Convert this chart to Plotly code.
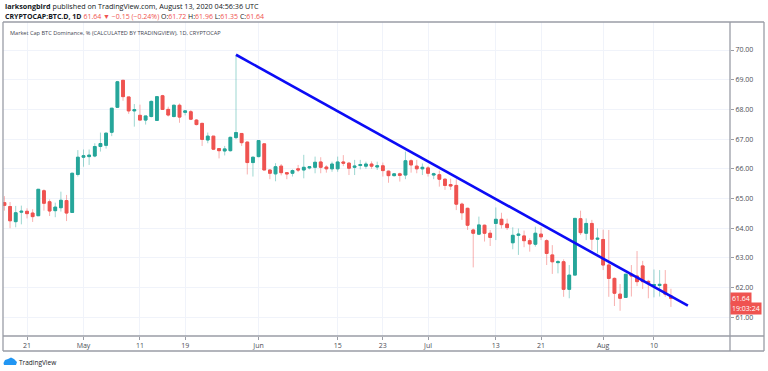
import plotly.graph_objects as go
import pandas as pd

# ---- data ----
dates = pd.date_range("2020-04-17", "2020-08-13", freq="D").strftime("%Y-%m-%d").tolist()

opens = [64.86, 64.73, 64.22, 64.54, 64.57, 64.51, 64.42, 65.26, 64.89, 64.59, 64.69, 64.93, 64.53, 65.81,
         66.39, 66.41, 66.43, 66.75, 66.79, 67.23, 68.07, 68.98, 68.42, 67.95, 67.80, 67.64, 67.76, 67.63,
         68.46, 68.00, 67.76, 68.14, 67.90, 67.92, 67.64, 67.53, 66.97, 67.10, 66.68, 66.60, 66.61, 67.05,
         67.19, 66.90, 66.21,
         66.41, 66.84, 65.96, 65.83, 66.09, 65.87, 65.85, 66.00, 65.96, 66.03, 66.05, 66.23, 66.06, 66.00,
         66.00, 66.23, 66.19, 66.05, 66.11, 66.09, 66.16, 66.06, 66.10, 65.92, 65.77, 65.83, 65.79, 66.27,
         66.09, 66.00,
         66.03, 65.79, 65.80, 65.65, 65.47, 65.44, 64.81, 64.67, 63.94, 63.80, 64.10, 63.83, 64.16, 64.30,
         64.14, 63.51, 63.76, 63.74, 63.58, 63.46, 63.80, 63.58, 63.10, 62.84, 62.87, 61.94, 62.42, 64.32,
         63.83, 64.16, 63.63,
         63.62, 62.76, 62.31, 61.78, 61.67, 62.45, 62.39, 62.73, 62.21, 62.07, 62.07, 62.11, 61.72]
highs = [65.08, 64.88, 64.75, 64.76, 64.67, 64.64, 65.32, 65.31, 64.97, 64.86, 65.23, 65.12, 65.87, 66.63,
         66.65, 66.65, 66.86, 67.22, 67.22, 68.04, 68.96, 68.99, 68.42, 68.18, 68.16, 67.78, 68.30, 68.45,
         68.49, 68.09, 68.16, 68.20, 67.98, 67.98, 67.67, 67.55, 67.22, 67.10, 66.69, 66.77, 67.08, 69.84,
         67.19, 66.91, 66.41,
         66.97, 66.84, 65.98, 66.19, 66.16, 65.89, 65.98, 66.13, 66.47, 66.09, 66.41, 66.39, 66.12, 66.24,
         66.41, 66.46, 66.23, 66.30, 66.30, 66.24, 66.25, 66.24, 66.21, 65.94, 65.85, 65.87, 66.58, 66.32,
         66.30, 66.18,
         66.09, 65.87, 65.94, 65.68, 65.67, 65.65, 64.86, 64.69, 63.99, 64.39, 64.12, 63.94, 64.70, 64.52,
         64.32, 64.03, 63.99, 63.92, 63.66, 64.05, 64.03, 63.63, 63.43, 62.93, 62.95, 62.76, 64.33, 64.59,
         64.33, 64.28, 63.99,
         63.95, 63.94, 62.34, 62.12, 62.45, 62.76, 63.23, 62.90, 62.26, 62.61, 62.59, 62.59, 61.96]
lows = [64.59, 64.00, 64.03, 64.13, 64.33, 64.21, 64.41, 64.59, 64.41, 64.37, 64.56, 64.24, 64.52, 65.74,
        66.07, 66.13, 66.39, 66.58, 66.68, 67.10, 68.05, 68.29, 67.85, 67.42, 67.64, 67.49, 67.73, 67.63,
        67.98, 67.76, 67.73, 67.55, 67.80, 67.64, 67.46, 66.77, 66.86, 66.63, 66.35, 66.45, 66.58, 67.00,
        66.77, 65.81, 65.74,
        66.39, 65.96, 65.65, 65.58, 65.78, 65.65, 65.74, 65.89, 65.68, 65.98, 65.85, 65.85, 65.87, 65.90,
        65.90, 66.09, 65.79, 65.79, 65.98, 66.00, 66.00, 65.96, 65.74, 65.53, 65.74, 65.57, 65.65, 65.87,
        65.85, 65.79,
        65.74, 65.65, 65.40, 65.29, 65.29, 64.61, 64.28, 63.94, 62.68, 63.77, 63.55, 63.40, 63.60, 63.99,
        63.94, 63.29, 63.10, 63.36, 63.21, 63.38, 63.60, 62.76, 62.46, 62.48, 61.69, 61.64, 62.42, 63.77,
        63.60, 63.27, 63.15,
        62.59, 61.69, 61.38, 61.22, 61.67, 61.70, 62.05, 61.95, 61.64, 61.67, 61.70, 61.69, 61.35]
closes = [64.77, 64.25, 64.52, 64.57, 64.49, 64.39, 65.31, 64.84, 64.58, 64.71, 64.94, 64.51, 65.85, 66.39,
          66.44, 66.46, 66.75, 66.85, 67.20, 68.04, 68.93, 68.43, 67.95, 67.99, 67.64, 67.78, 68.27, 68.43,
          68.00, 67.81, 68.14, 67.74, 67.95, 67.67, 67.49, 66.99, 67.10, 66.66, 66.61, 66.67, 67.06, 67.22,
          66.88, 66.21, 66.39,
          66.95, 65.96, 65.85, 66.07, 65.87, 65.83, 65.94, 65.96, 66.05, 66.07, 66.22, 66.05, 66.00, 66.16,
          66.23, 66.19, 66.02, 66.09, 66.14, 66.16, 66.09, 66.10, 65.94, 65.77, 65.83, 65.78, 66.27, 66.13,
          66.00, 66.05,
          65.85, 65.83, 65.65, 65.44, 65.42, 64.81, 64.52, 64.10, 63.83, 64.11, 63.83, 63.69, 64.30, 64.12,
          64.02, 63.76, 63.80, 63.58, 63.47, 63.83, 63.71, 63.15, 62.87, 62.87, 61.94, 62.42, 64.33, 63.85,
          64.16, 63.63, 63.66,
          62.76, 62.31, 61.81, 61.64, 62.45, 62.39, 62.20, 62.20, 62.17, 62.10, 62.11, 61.78, 61.64]

trend_dates = ["2020-05-28", "2020-08-16"]
trend_values = [69.84, 61.39]

tick_dates = ["2020-04-21", "2020-05-01", "2020-05-11", "2020-05-19", "2020-06-01", "2020-06-15",
              "2020-06-23", "2020-07-01", "2020-07-13", "2020-07-21", "2020-08-01", "2020-08-10"]
tick_labels = ["21", "May", "11", "19", "Jun", "15", "23", "Jul", "13", "21", "Aug", "10"]

last_price = 61.64
countdown = "19:03:24"

# ---- styling ----
UP = "#26a69a"
DOWN = "#ef5350"
UP_WICK = "rgba(38,166,154,0.45)"
DOWN_WICK = "rgba(239,83,80,0.45)"
FONT = "Open Sans"
TXT = "#131722"
FRAME = "#9a9da6"
GRID = "#f0f3fa"

body_hi = [max(o, c) for o, c in zip(opens, closes)]
body_lo = [min(o, c) for o, c in zip(opens, closes)]

fig = go.Figure()
# wicks (light)
fig.add_trace(go.Candlestick(
    x=dates, open=opens, high=highs, low=lows, close=closes,
    increasing=dict(line=dict(color=UP_WICK, width=1), fillcolor=UP_WICK),
    decreasing=dict(line=dict(color=DOWN_WICK, width=1), fillcolor=DOWN_WICK),
    hoverinfo="skip", showlegend=False))
# bodies (solid)
fig.add_trace(go.Candlestick(
    x=dates, open=opens, high=body_hi, low=body_lo, close=closes,
    increasing=dict(line=dict(color=UP, width=1), fillcolor=UP),
    decreasing=dict(line=dict(color=DOWN, width=1), fillcolor=DOWN),
    showlegend=False))
# trend line
fig.add_trace(go.Scatter(x=trend_dates, y=trend_values, mode="lines",
                         line=dict(color="#0c0cf5", width=2.6), showlegend=False, hoverinfo="skip"))

# plot area pixels: x 3..730, y 22..336
L, R, T, B = 3, 730, 22, 336
W, H = R - L, B - T
def px(X):
    return (X - L) / W
def py(Y):
    return (B - Y) / H

fig.update_layout(
    width=768, height=371,
    margin=dict(l=L, r=768 - R, t=T, b=371 - B, pad=0),
    paper_bgcolor="white", plot_bgcolor="white",
    font=dict(family=FONT, size=7, color="#4c4e56"),
    showlegend=False,
    xaxis=dict(type="date", range=["2020-04-16 18:00", "2020-08-23 11:00"],
               tickvals=tick_dates, ticktext=tick_labels,
               showgrid=True, gridcolor=GRID, gridwidth=1, zeroline=False,
               ticks="outside", ticklen=3, tickcolor=FRAME, showline=False,
               rangeslider=dict(visible=False), tickfont=dict(size=7, color="#4c4e56")),
    yaxis=dict(side="right", range=[60.37, 70.943], tick0=61, dtick=1, tickformat=".2f",
               showgrid=True, gridcolor=GRID, gridwidth=1, zeroline=False,
               ticks="outside", ticklen=3, tickcolor=FRAME, showline=False,
               tickfont=dict(size=7, color="#4c4e56")),
)

# frame lines
line_style = dict(color=FRAME, width=1.3)
x_out = px(764)
y_bot = py(351)
for x0, y0, x1, y1 in [(0, 1, x_out, 1), (0, y_bot, x_out, y_bot), (0, y_bot, 0, 1),
                       (x_out, y_bot, x_out, 1), (1, y_bot, 1, 1), (0, 0, x_out, 0)]:
    fig.add_shape(type="line", xref="paper", yref="paper", x0=x0, y0=y0, x1=x1, y1=y1,
                  line=line_style, layer="above")

# header texts
fig.add_annotation(xref="paper", yref="paper", x=px(3), y=py(6), xanchor="left", yanchor="middle",
                   showarrow=False, font=dict(size=7.2, color=TXT, family=FONT),
                   text="<b>larksongbird</b> published on TradingView.com, August 13, 2020 04:56:36 UTC")
fig.add_annotation(xref="paper", yref="paper", x=px(3), y=py(16), xanchor="left", yanchor="middle",
                   showarrow=False, font=dict(size=7, color=TXT, family=FONT),
                   text=("<b>CRYPTOCAP:BTC.D, 1D</b> "
                         f"<span style='color:{DOWN}'>61.64 ▼ −0.15 (−0.24%)</span> "
                         f"O:<span style='color:{DOWN}'>61.72</span> "
                         f"H:<span style='color:{DOWN}'>61.96</span> "
                         f"L:<span style='color:{DOWN}'>61.35</span> "
                         f"C:<span style='color:{DOWN}'>61.64</span>"))
fig.add_annotation(xref="paper", yref="paper", x=px(8), y=py(33), xanchor="left", yanchor="middle",
                   showarrow=False, font=dict(size=5.6, color="#434651", family=FONT),
                   text="Market Cap BTC Dominance, % (CALCULATED BY TRADINGVIEW), 1D, CRYPTOCAP")

# last price labels
fig.add_annotation(xref="paper", yref="y", x=1.0, y=last_price, xanchor="left", yanchor="middle",
                   showarrow=False, text=f"{last_price:.2f}", bgcolor=DOWN, borderpad=1,
                   font=dict(size=7, color="white", family=FONT))
fig.add_annotation(xref="paper", yref="y", x=1.0, y=last_price, xanchor="left", yanchor="middle",
                   yshift=-10, showarrow=False, text=countdown, bgcolor=DOWN, borderpad=1,
                   font=dict(size=7, color="white", family=FONT))

# TradingView logo
fig.add_shape(type="path", xref="paper", yref="paper",
              path=(f"M {px(4)},{py(365)} L {px(16)},{py(365)} L {px(17)},{py(362)} "
                    f"L {px(14)},{py(359)} L {px(11)},{py(357.5)} L {px(8)},{py(359)} "
                    f"L {px(5)},{py(360)} L {px(3.5)},{py(363)} Z"),
              fillcolor="#2196f3", line=dict(width=0))
fig.add_annotation(xref="paper", yref="paper", x=px(17), y=py(362), xanchor="left", yanchor="middle",
                   showarrow=False, text="TradingView", font=dict(size=6.5, color=TXT, family=FONT))

fig.write_html("out.html", config={"displayModeBar": False},
               post_script="document.body.style.margin='0';document.body.style.overflow='hidden';")
